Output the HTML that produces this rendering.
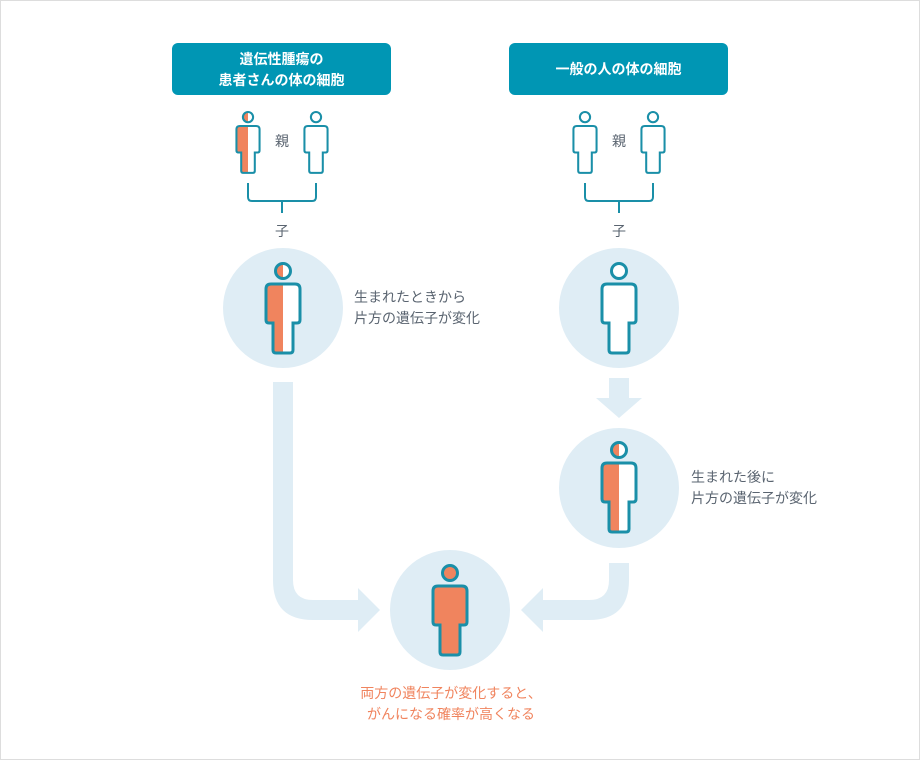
<!DOCTYPE html>
<html><head><meta charset="utf-8"><style>
body{margin:0;background:#fff}
svg{display:block;font-family:"Liberation Sans","Noto Sans CJK JP",sans-serif}
</style></head><body>
<svg width="920" height="760" viewBox="0 0 920 760">
<defs>
<path id="b" d="M-12,22H12Q17,22 17,27V58Q17,61 14,61H10V88Q10,91 7,91H-7Q-10,91 -10,88V61H-14Q-17,61 -17,58V27Q-17,22 -12,22Z"/>
<clipPath id="lh"><rect x="-20" y="-2" width="20" height="98"/></clipPath>
<g id="half">
<circle cx="0" cy="9" r="7.5" fill="#fff"/><use href="#b" fill="#fff"/>
<g clip-path="url(#lh)"><circle cx="0" cy="9" r="7.5" fill="#f0845e"/><use href="#b" fill="#f0845e"/></g>
<circle cx="0" cy="9" r="7.5" fill="none" stroke="#1a8fa8" stroke-width="3"/><use href="#b" fill="none" stroke="#1a8fa8" stroke-width="3"/>
</g>
<g id="empty">
<circle cx="0" cy="9" r="7.5" fill="#fff" stroke="#1a8fa8" stroke-width="3"/><use href="#b" fill="#fff" stroke="#1a8fa8" stroke-width="3"/>
</g>
<g id="full">
<circle cx="0" cy="9" r="7.5" fill="#f0845e" stroke="#1a8fa8" stroke-width="3"/><use href="#b" fill="#f0845e" stroke="#1a8fa8" stroke-width="3"/>
</g>
</defs>
<rect x="0.5" y="0.5" width="919" height="759" fill="#fff" stroke="#ddd"/>
<rect x="172" y="43" width="219" height="52" rx="6" fill="#0096b4"/>
<text x="281.5" y="64" text-anchor="middle" font-size="14" font-weight="bold" fill="#fff">遺伝性腫瘍の</text>
<text x="281.5" y="85" text-anchor="middle" font-size="14" font-weight="bold" fill="#fff">患者さんの体の細胞</text>
<rect x="509" y="43" width="219" height="52" rx="6" fill="#0096b4"/>
<text x="618.5" y="74" text-anchor="middle" font-size="14" font-weight="bold" fill="#fff">一般の人の体の細胞</text>
<g fill="#dfedf5">
<circle cx="283" cy="308" r="60"/><circle cx="619" cy="308" r="60"/>
<circle cx="619" cy="488" r="60"/><circle cx="450" cy="610" r="60"/>
<path d="M273,382H293V580Q293,600 313,600H358V588L380,610L358,632V620H313Q273,620 273,580Z"/>
<path d="M609,563H629V580Q629,620 589,620H543V632L521,610L543,588V600H589Q609,600 609,580Z"/>
<path d="M609,378H629V398H642L619,418L596,398H609Z"/>
</g>
<g transform="translate(248,111) scale(0.68)"><use href="#half"/></g>
<g transform="translate(316,111) scale(0.68)"><use href="#empty"/></g>
<g transform="translate(585,111) scale(0.68)"><use href="#empty"/></g>
<g transform="translate(653,111) scale(0.68)"><use href="#empty"/></g>
<g fill="none" stroke="#1a8fa8" stroke-width="2">
<path d="M248,183V197Q248,201 252,201H312Q316,201 316,197V183M282,201V213"/>
<path d="M585,183V197Q585,201 589,201H649Q653,201 653,197V183M619,201V213"/>
</g>
<g font-size="14" fill="#5a6470" text-anchor="middle">
<text x="282" y="146">親</text><text x="619" y="146">親</text>
<text x="282" y="236">子</text><text x="619" y="236">子</text>
</g>
<g transform="translate(283,262)"><use href="#half"/></g>
<g transform="translate(619,262)"><use href="#empty"/></g>
<g transform="translate(619,441)"><use href="#half"/></g>
<g transform="translate(450,564)"><use href="#full"/></g>
<g font-size="14" fill="#5a6470">
<text x="354" y="302">生まれたときから</text>
<text x="354" y="323">片方の遺伝子が変化</text>
<text x="691" y="482">生まれた後に</text>
<text x="691" y="503">片方の遺伝子が変化</text>
</g>
<g font-size="14" fill="#f0845e" text-anchor="middle">
<text x="451" y="698">両方の遺伝子が変化すると、</text>
<text x="451" y="719">がんになる確率が高くなる</text>
</g>
</svg>
</body></html>
